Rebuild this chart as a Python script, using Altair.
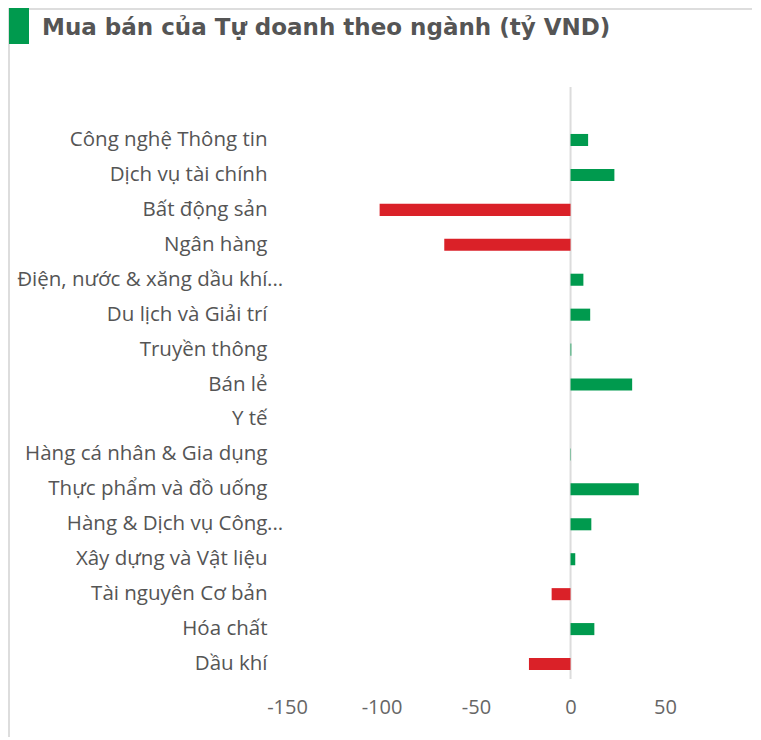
import altair as alt
import pandas as pd

categories = [
    "Công nghệ Thông tin", "Dịch vụ tài chính", "Bất động sản", "Ngân hàng",
    "Điện, nước & xăng dầu khí...", "Du lịch và Giải trí", "Truyền thông", "Bán lẻ",
    "Y tế", "Hàng cá nhân & Gia dụng", "Thực phẩm và đồ uống", "Hàng & Dịch vụ Công...",
    "Xây dựng và Vật liệu", "Tài nguyên Cơ bản", "Hóa chất", "Dầu khí",
]
values = [9.3, 23.2, -101.0, -66.8, 6.8, 10.4, 0.4, 32.6,
          0.0, 0.2, 36.1, 11.0, 2.5, -10.0, 12.6, -22.0]
x_ticks = [-150, -100, -50, 0, 50]
title_text = "Mua bán của Tự doanh theo ngành (tỷ VND)"

GREEN = "#009a4e"
RED = "#da2128"
W, H = 465, 592
PL, PT = 279, 79
FONT = "Open Sans"
FS = 20.5

df = pd.DataFrame({"cat": categories, "val": values})
df["trunc"] = df["cat"].str.endswith("...")
one = pd.DataFrame({"k": [0]})

xscale = alt.Scale(domain=[-150, 96], nice=False, zero=False)
yscale = alt.Scale(paddingInner=0.655, paddingOuter=0.8, align=0.84)
ysort = categories

bars = alt.Chart(df).mark_bar(cornerRadius=0).encode(
    x=alt.X("val:Q", scale=xscale,
            axis=alt.Axis(values=x_ticks, title=None, grid=False, ticks=False, domain=False,
                          labelFlush=False, labelExpr="toString(datum.value)",
                          labelFontSize=20, labelColor="#666666", labelFont=FONT,
                          labelPadding=18)),
    y=alt.Y("cat:N", sort=ysort, scale=yscale,
            axis=alt.Axis(title=None, grid=False, ticks=False, domain=False,
                          labelExpr="replace(datum.label, '...', '')",
                          labelFontSize=FS, labelColor="#555555", labelFont=FONT,
                          labelPadding=20, labelLimit=400)),
    color=alt.condition(alt.datum.val < 0, alt.value(RED), alt.value(GREEN)),
)

dots = alt.Chart(df).transform_filter(alt.datum.trunc).mark_text(
    text="...", align="left", baseline="middle", font=FONT, fontSize=FS, color="#555555"
).encode(
    x=alt.value(-20),
    y=alt.Y("cat:N", sort=ysort, scale=yscale),
)

zero = alt.Chart(one).mark_rule(color="#dcdcdc", strokeWidth=2).encode(
    x=alt.datum(0, scale=xscale)
)

top_border = alt.Chart(one).mark_rule(color="#dddddd", strokeWidth=2).encode(
    x=alt.value(-PL), x2=alt.value(W), y=alt.value(-PT + 1)
)
left_border = alt.Chart(one).mark_rule(color="#dddddd", strokeWidth=2).encode(
    x=alt.value(-PL + 1), y=alt.value(-PT), y2=alt.value(H + 60)
)
green_box = alt.Chart(one).mark_rect(color=GREEN).encode(
    x=alt.value(-PL + 1), x2=alt.value(-PL + 21), y=alt.value(-PT), y2=alt.value(-PT + 36)
)
title = alt.Chart(one).mark_text(
    text=title_text, align="left", baseline="alphabetic", font="DejaVu Sans",
    fontSize=23, fontWeight="bold", color="#555555"
).encode(x=alt.value(-PL + 34), y=alt.value(-PT + 27))

chart = alt.layer(zero, bars, dots, top_border, left_border, green_box, title).properties(
    width=W, height=H,
    autosize=alt.AutoSizeParams(type="none"),
    padding={"left": PL, "top": PT, "right": 0, "bottom": 58},
).configure_view(stroke=None)

chart.save("out.html", embed_options={"renderer": "svg", "actions": False})
